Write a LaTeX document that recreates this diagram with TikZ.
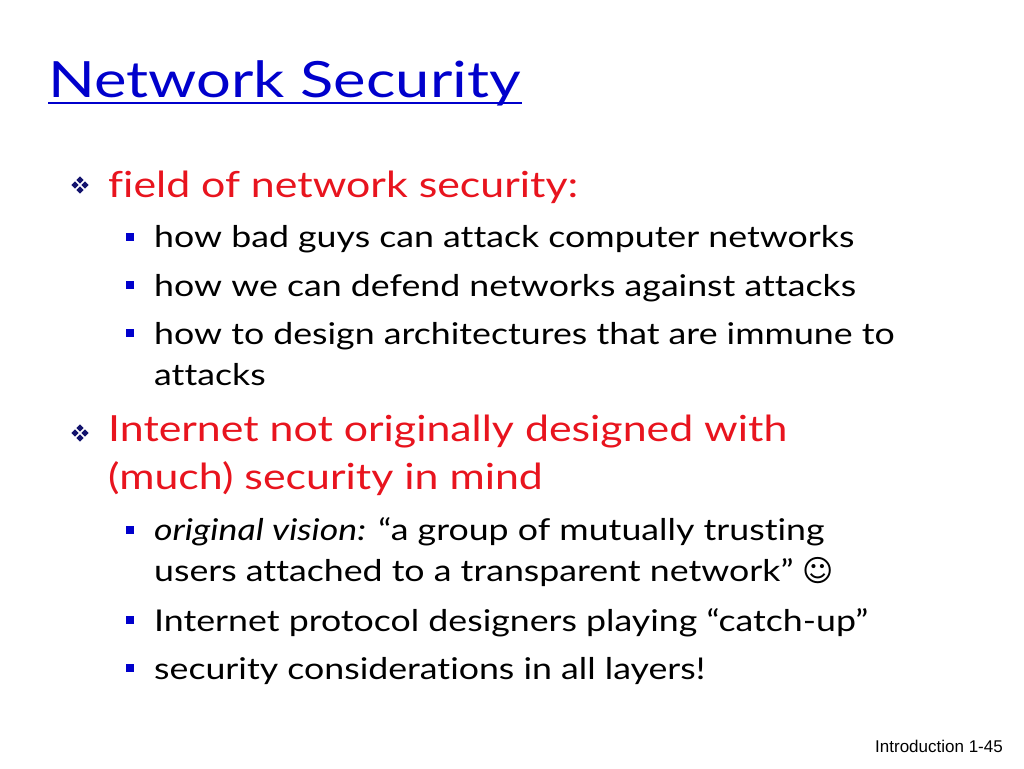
\documentclass[tikz,border=0pt]{standalone}
\usepackage{fontspec}
\setmainfont{Lato}[FakeStretch=1.19,Ligatures=NoCommon]
\newfontfamily\titlefont{Lato}[FakeStretch=1.23,Ligatures=NoCommon]
\newfontfamily\symfont{DejaVu Sans}
\newfontfamily\footfont{Liberation Sans}
\definecolor{ttl}{RGB}{0,0,204}
\definecolor{redt}{RGB}{232,20,30}
\definecolor{bul}{RGB}{0,0,204}
\definecolor{dbul}{RGB}{20,20,110}
\begin{document}
\begin{tikzpicture}[x=1pt,y=-1pt,
  lone/.style={anchor=base west,inner sep=0pt,text=redt,font=\fontsize{36}{40}\selectfont},
  ltwo/.style={anchor=base west,inner sep=0pt,font=\fontsize{30}{34}\selectfont},
  sq/.style={fill=bul,minimum size=8pt,inner sep=0pt}]
\useasboundingbox (0,0) rectangle (1024,768);
\node[anchor=base west,inner sep=0pt,text=ttl,font=\titlefont\fontsize{50}{54}\selectfont] (title) at (48,97) {Network Security};
\draw[ttl,line width=2pt] (48,103) -- (522,103);
% level-1 bullets
\foreach \n/\cy in {b1/185,b2/433}{
  \foreach \dx/\dy in {0/-5,0/5,-5/0,5/0}{
    \fill[dbul] (80+\dx,\cy+\dy) +(0,-3.6) -- +(3.6,0) -- +(0,3.6) -- +(-3.6,0) -- cycle;}
}
\node[lone] (f1) at (108,197) {field of network security:};
\node[sq] at (130,237) {}; \node[ltwo] (s1) at (154,247) {how bad guys can attack computer networks};
\node[sq] at (130,285) {}; \node[ltwo] (s2) at (154,296) {how we can defend networks against attacks};
\node[sq] at (130,333) {}; \node[ltwo] (s3) at (154,344) {how to design architectures that are immune to};
\node[ltwo] (s3b) at (154,385) {attacks};
\node[lone] (f2) at (108,441) {Internet not originally designed with};
\node[lone] (f2b) at (108,489) {(much) security in mind};
\node[sq] at (130,530) {}; \node[ltwo] (t1) at (154,540) {\textit{original vision:} “a group of mutually trusting};
\node[ltwo] (t1b) at (154,581) {users attached to a transparent network” {\symfont ☺}};
\node[sq] at (130,620) {}; \node[ltwo] (t2) at (154,631) {Internet protocol designers playing “catch-up”};
\node[sq] at (130,668) {}; \node[ltwo] (t3) at (154,679) {security considerations in all layers!};
\node[anchor=base east,inner sep=0pt,font=\footfont\fontsize{17}{19}\selectfont] (ft) at (1003,752) {Introduction 1-45};
\end{tikzpicture}
\end{document}
